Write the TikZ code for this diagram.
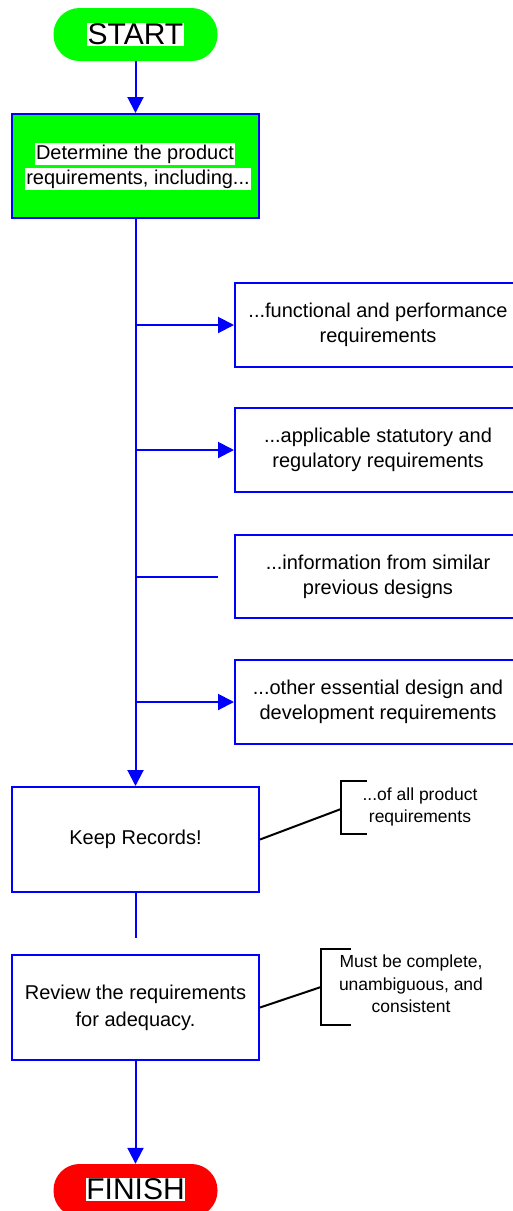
\documentclass[tikz,border=0pt]{standalone}
\usepackage{fontspec}
\setmainfont{Liberation Sans}
\usetikzlibrary{arrows.meta}
\definecolor{flowblue}{RGB}{0,0,255}
\definecolor{flowgreen}{RGB}{0,255,0}
\definecolor{flowred}{RGB}{255,0,0}
\begin{document}
\begin{tikzpicture}[x=1pt,y=-1pt,
  flow/.style={draw=flowblue,line width=2pt},
  arrow/.style={flow,-{Triangle[length=16pt,width=16pt]}},
  terminal/.style={rounded corners=26pt,minimum width=164pt,minimum height=53pt,inner sep=0pt},
  termtext/.style={fill=white,inner sep=0.5pt,font=\fontsize{30}{30}\selectfont,text height=21pt,text depth=1pt},
  procbox/.style={draw=flowblue,line width=2pt,fill=white,minimum width=247pt,minimum height=105pt,inner sep=0pt,align=center,font=\fontsize{20}{27}\selectfont},
  sidebox/.style={draw=flowblue,line width=2pt,fill=white,minimum width=286pt,minimum height=84pt,inner sep=0pt,align=center,font=\fontsize{20}{25}\selectfont},
  linetext/.style={fill=white,inner sep=1pt,font=\fontsize{20}{20}\selectfont,text height=15pt,text depth=5pt},
  note/.style={align=center,inner sep=0pt,font=\fontsize{17.5}{22.5}\selectfont},
  bracket/.style={draw=black,line width=2pt}]
\path[use as bounding box] (0,0) rectangle (513,1211);
\begin{scope}
\clip (0,0) rectangle (513,1211);

% start and first process
\node[terminal,fill=flowgreen] (start) at (135.5,34.5) {};
\node[termtext] (starttext) at (135.5,34) {START};
\node[procbox,fill=flowgreen,minimum height=104pt] (det) at (135.5,166) {};
\node[linetext] (detA) at (135,154) {Determine the product};
\node[linetext] (detB) at (138,179) {requirements, including...};

% requirement categories
\node[sidebox] (r1) at (378,325) {...functional and performance\\requirements};
\node[sidebox] (r2) at (378,450) {...applicable statutory and\\regulatory requirements};
\node[sidebox,minimum height=83pt] (r3) at (378,576.5) {...information from similar\\previous designs};
\node[sidebox] (r4) at (378,702) {...other essential design and\\development requirements};

% records and review
\node[procbox] (keep) at (135.5,839.5) {Keep Records!};
\node[procbox] (review) at (135.5,1007.5) {Review the requirements\\for adequacy.};
\node[terminal,fill=flowred] (finish) at (135.5,1190.5) {};
\node[termtext] (finishtext) at (135.5,1189) {FINISH};

% main flow
\draw[arrow] (start.south) -- (det.north);
\draw[arrow] (det.south) -- (keep.north);
\draw[arrow] (det.south |- r1.west) -- (r1.west);
\draw[arrow] (det.south |- r2.west) -- (r2.west);
\coordinate (r3end) at (218,577);
\draw[flow] (det.south |- r3end) -- (r3end);
\draw[arrow] (det.south |- r4.west) -- (r4.west);
\coordinate (keepend) at (135.5,938);
\draw[flow] (keep.south) -- (keepend);
\draw[arrow] (review.south) -- (finish.north);

% annotations
\node[note] (n1) at (420,807) {...of all product\\requirements};
\coordinate (b1) at (341,809);
\draw[bracket] (367,781) -- (341,781) -- (341,834) -- (367,834);
\draw[bracket] (keep.east) -- (b1);

\node[note] (n2) at (411,984) {Must be complete,\\unambiguous, and\\consistent};
\coordinate (b2) at (321,987);
\draw[bracket] (351,949) -- (321,949) -- (321,1025) -- (351,1025);
\draw[bracket] (review.east) -- (b2);
\end{scope}
\end{tikzpicture}
\end{document}
